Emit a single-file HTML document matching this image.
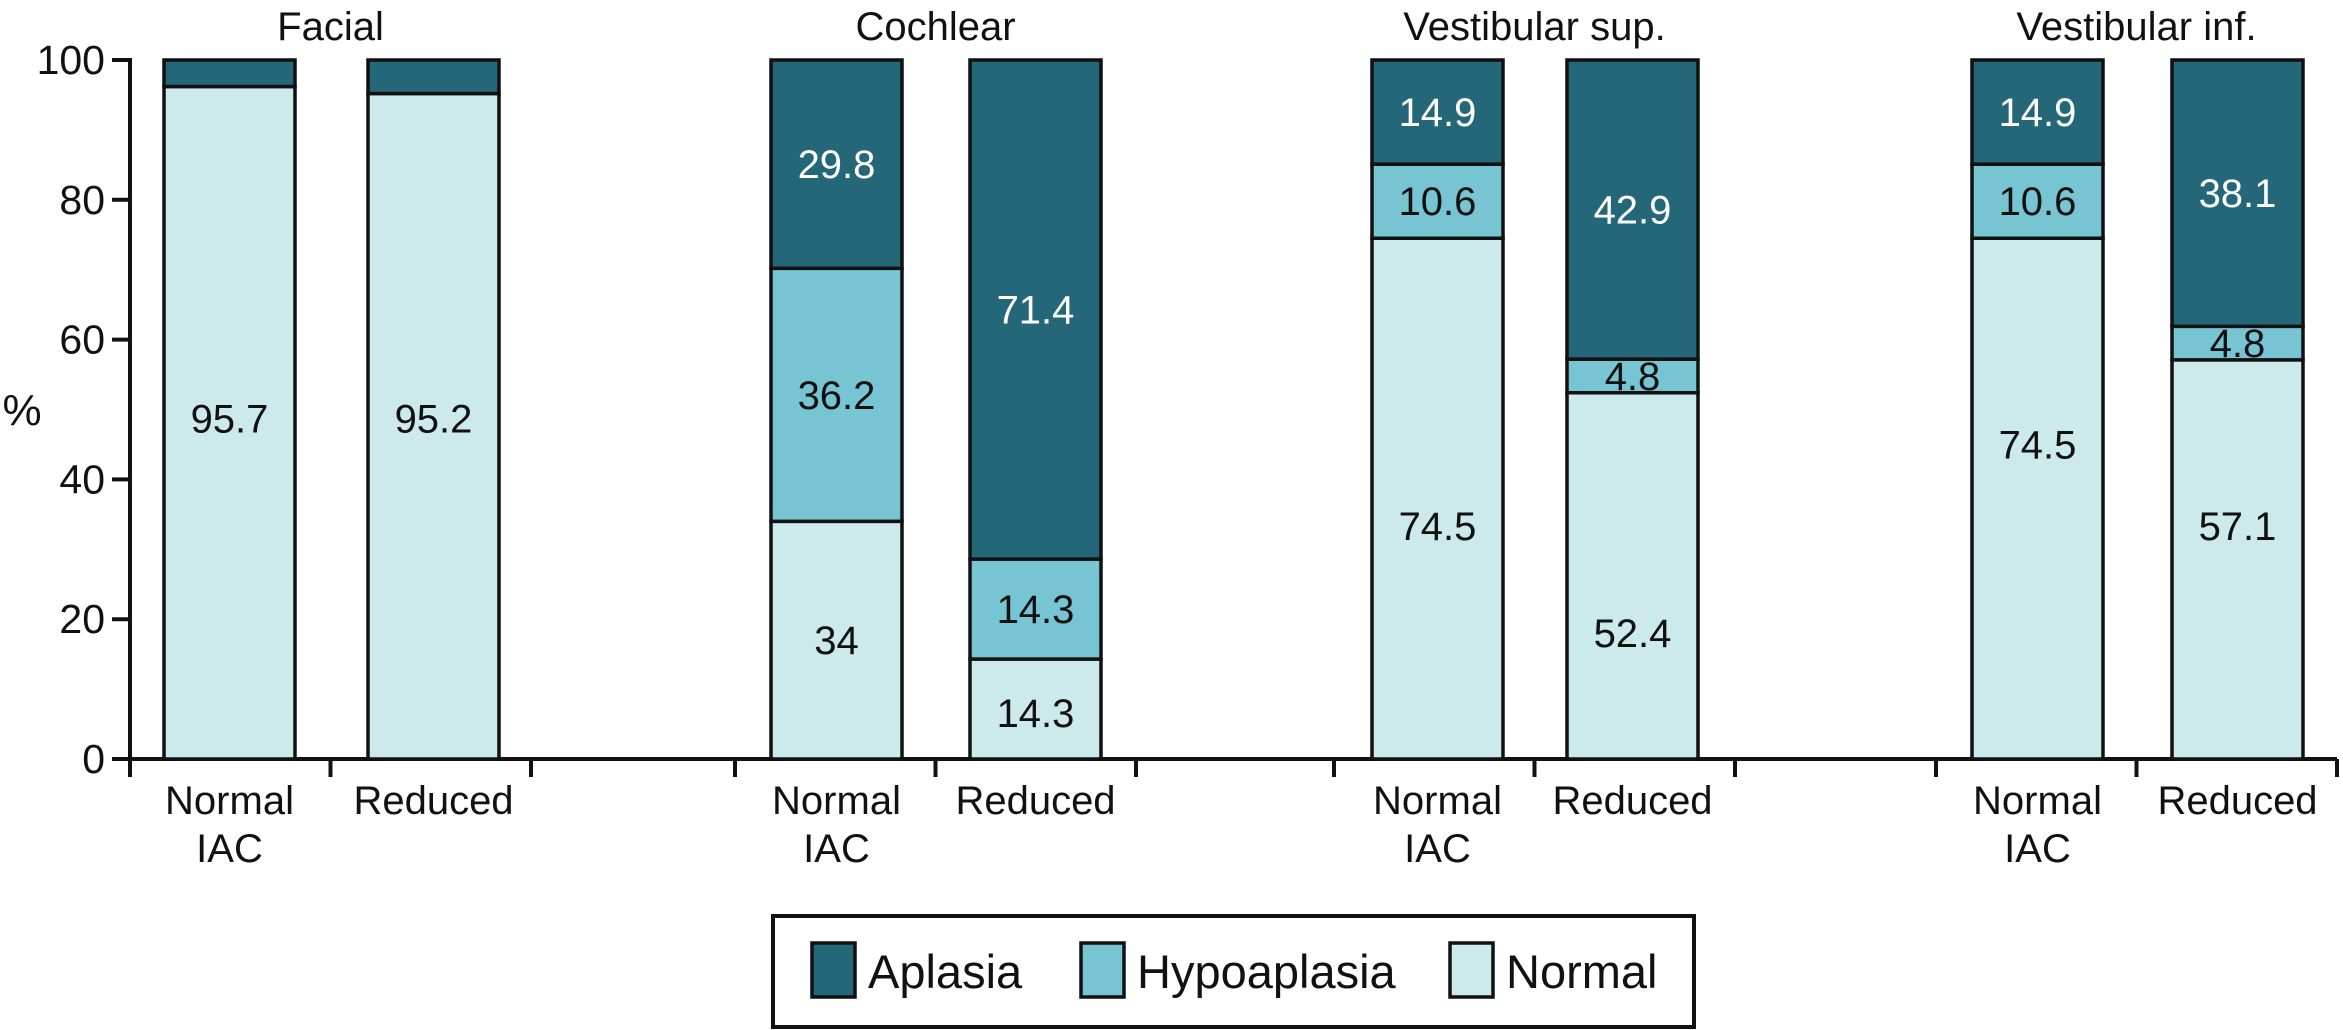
<!DOCTYPE html>
<html><head><meta charset="utf-8"><style>
html,body{margin:0;padding:0;background:#fff;}
svg{display:block;font-family:"Liberation Sans",Arial,sans-serif;}
</style></head><body>
<svg id="chart" width="2343" height="1030" viewBox="0 0 2343 1030"></svg>
<script>
const groups = ["Facial","Cochlear","Vestibular sup.","Vestibular inf."];
const categories = ["Normal IAC","Reduced"];
// per bar: [Normal, Hypoaplasia, Aplasia]
const normalVals = [96.2,95.2, 34,14.3, 74.5,52.4, 74.5,57.1];
const hypoVals   = [0,0, 36.2,14.3, 10.6,4.8, 10.6,4.8];
const aplasiaVals= [3.8,4.8, 29.8,71.4, 14.9,42.9, 14.9,38.1];
const normalLabels = ["95.7","95.2","34","14.3","74.5","52.4","74.5","57.1"];
const hypoLabels   = ["","","36.2","14.3","10.6","4.8","10.6","4.8"];
const aplasiaLabels= ["","","29.8","71.4","14.9","42.9","14.9","38.1"];
const normalLabelAt = [48.7,48.7,17,6.6,33.3,18,45,33.3];
const yTicks = [0,20,40,60,80,100];
const seriesNames = ["Aplasia","Hypoaplasia","Normal"];

const C = {apl:"#236779", hyp:"#77c4d3", nor:"#cce9eb"};
const svg = document.getElementById('chart');
const NS = "http://www.w3.org/2000/svg";
function el(tag, attrs, parent){const e=document.createElementNS(NS,tag);for(const k in attrs)e.setAttribute(k,attrs[k]);(parent||svg).appendChild(e);return e;}
const x0=130, yTop=60, yBot=759;
function y(v){return yBot-(yBot-yTop)*v/100;}
const groupStarts=[130,735,1334,1936];
const slot=200.5;
const barLeft=[164,368,771,970,1372,1567,1972,2172];
function barX(i){return barLeft[i];}
const bw=131;

let a=el('line',{x1:x0,y1:yTop-2,x2:x0,y2:yBot+16,stroke:"#111","stroke-width":4});

yTicks.forEach(t=>{
  const l=el('line',{x1:x0-18,y1:y(t),x2:x0,y2:y(t),stroke:"#111","stroke-width":4});
  
  const tx=el('text',{x:x0-25,y:y(t)+14,"font-size":41,"text-anchor":"end",fill:"#111"});
  tx.textContent=t;
  
});
const yt=el('text',{x:22,y:425,"font-size":44,"text-anchor":"middle",fill:"#111"});yt.textContent="%";

const xa=el('line',{x1:x0,y1:yBot,x2:2337,y2:yBot,stroke:"#111","stroke-width":4});

groupStarts.forEach(g=>{[0,1,2].forEach(k=>{
  const l=el('line',{x1:g+k*slot,y1:yBot,x2:g+k*slot,y2:yBot+18,stroke:"#111","stroke-width":4});
  
});});

groups.forEach((gname,g)=>{
  const t=el('text',{x:groupStarts[g]+slot,y:40,"font-size":40,"text-anchor":"middle",fill:"#111"});
  t.textContent=gname;
  
});

for(let i=0;i<normalVals.length;i++){
  const bx=barX(i);
  const segs=[[normalVals[i],C.nor,normalLabels[i],"#111",normalLabelAt[i]],[hypoVals[i],C.hyp,hypoLabels[i],"#111",null],[aplasiaVals[i],C.apl,aplasiaLabels[i],"#fff",null]];
  let base=0;
  segs.forEach((s,j)=>{
    const v=s[0];
    if(v>0){
      const top=Math.min(100,base+v);
      const r=el('rect',{x:bx,y:y(top),width:bw,height:y(base)-y(top),fill:s[1],stroke:"#111","stroke-width":3.5});
      
      
      if(s[2]){
        const ly=s[4]!==null?s[4]:(base+top)/2;
        const tx=el('text',{x:bx+bw/2,y:y(ly)+14,"font-size":40,"text-anchor":"middle",fill:s[3]});
        tx.textContent=s[2];
        
      }
      base=top;
    }
  });
  const c=categories[i%2];
  const cx=barX(i)+bw/2;
  if(i%2===0){
    const t1=el('text',{x:cx,y:814,"font-size":40,"text-anchor":"middle",fill:"#111"});t1.textContent="Normal";
    
    const t2=el('text',{x:cx,y:862,"font-size":40,"text-anchor":"middle",fill:"#111"});t2.textContent="IAC";
    
  } else {
    const t1=el('text',{x:cx,y:814,"font-size":40,"text-anchor":"middle",fill:"#111"});t1.textContent=c;
    
  }
}

const lg=el('rect',{x:773,y:916,width:921,height:111,fill:"#fff",stroke:"#111","stroke-width":4});

const legendItems=[[812,C.apl,"Aplasia"],[1081,C.hyp,"Hypoaplasia"],[1450,C.nor,"Normal"]];
legendItems.forEach(it=>{
  const r=el('rect',{x:it[0],y:943,width:43,height:54,fill:it[1],stroke:"#111","stroke-width":3.5});
  
  const t=el('text',{x:it[0]+56,y:988,"font-size":47,fill:"#111"});t.textContent=it[2];
  
});
</script>
</body></html>
